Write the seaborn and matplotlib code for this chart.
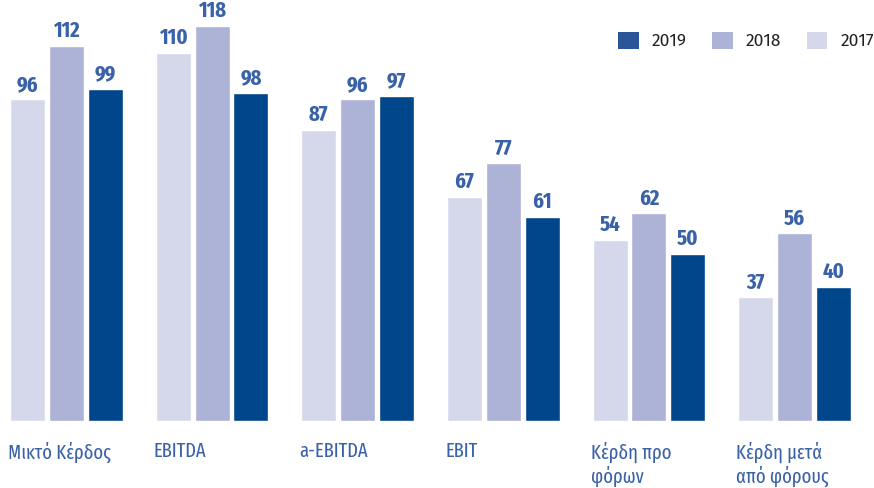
import matplotlib
matplotlib.use("Agg")
import matplotlib.pyplot as plt
from matplotlib.patches import Patch
import seaborn as sns
import pandas as pd

categories = ["Μικτό Κέρδος", "EBITDA", "a-EBITDA", "EBIT", "Κέρδη προ\nφόρων", "Κέρδη μετά\nαπό φόρους"]
years = ["2017", "2018", "2019"]
values_2017 = [96, 110, 87, 67, 54, 37]
values_2018 = [112, 118, 96, 77, 62, 56]
values_2019 = [99, 98, 97, 61, 50, 40]

colors = {"2017": "#d5d8ea", "2018": "#adb3d6", "2019": "#00468b"}
legend_colors = {"2017": "#d5d8ea", "2018": "#adb3d6", "2019": "#2a5597"}
label_color = "#3a62a8"

rows = []
for y, vals in zip(years, [values_2017, values_2018, values_2019]):
    for c, v in zip(categories, vals):
        rows.append({"cat": c, "year": y, "val": v})
df = pd.DataFrame(rows)

sns.set_theme(style="white")
plt.rcParams["font.family"] = ["Fira Sans Condensed", "DejaVu Sans"]

fig = plt.figure(figsize=(8.74, 4.88), dpi=100)
ax = fig.add_axes([0, 67 / 488, 1, 421 / 488])
sns.barplot(data=df, x="cat", y="val", hue="year", order=categories, hue_order=years,
            palette=colors, width=0.8, gap=0.1, saturation=1, ax=ax, legend=False,
            errorbar=None)

ax.set_xlim((0 - 66.5) / 145.6, (874 - 66.5) / 145.6)
ax.set_ylim(0, 421 / 3.35)
for s in ax.spines.values():
    s.set_visible(False)
ax.set_yticks([])
ax.set_xlabel("")
ax.set_ylabel("")
ax.set_xticks([])

for cont in ax.containers:
    ax.bar_label(cont, padding=3, color=label_color, fontsize=16, fontweight="bold",
                 family=["Fira Sans Extra Condensed", "DejaVu Sans"])

for i, c in enumerate(categories):
    ax.text(i - 0.4, -0.048, c, transform=ax.get_xaxis_transform(), ha="left", va="top",
            fontsize=14.5, color=label_color, linespacing=1.2,
            family=["Fira Sans Extra Condensed", "DejaVu Sans"])

handles = [Patch(facecolor=legend_colors[y], edgecolor="none", label=y) for y in ["2019", "2018", "2017"]]
fig.legend(handles=handles, loc="upper right", bbox_to_anchor=(1.0, 1 - 32 / 488), ncol=3,
           frameon=False, handlelength=1.2, handleheight=1.15, handletextpad=0.75,
           columnspacing=1.45, prop={"family": ["Fira Sans", "DejaVu Sans"], "size": 12.5},
           labelcolor="#222222", borderaxespad=0, borderpad=0)

fig.savefig("out.png", dpi=100)
